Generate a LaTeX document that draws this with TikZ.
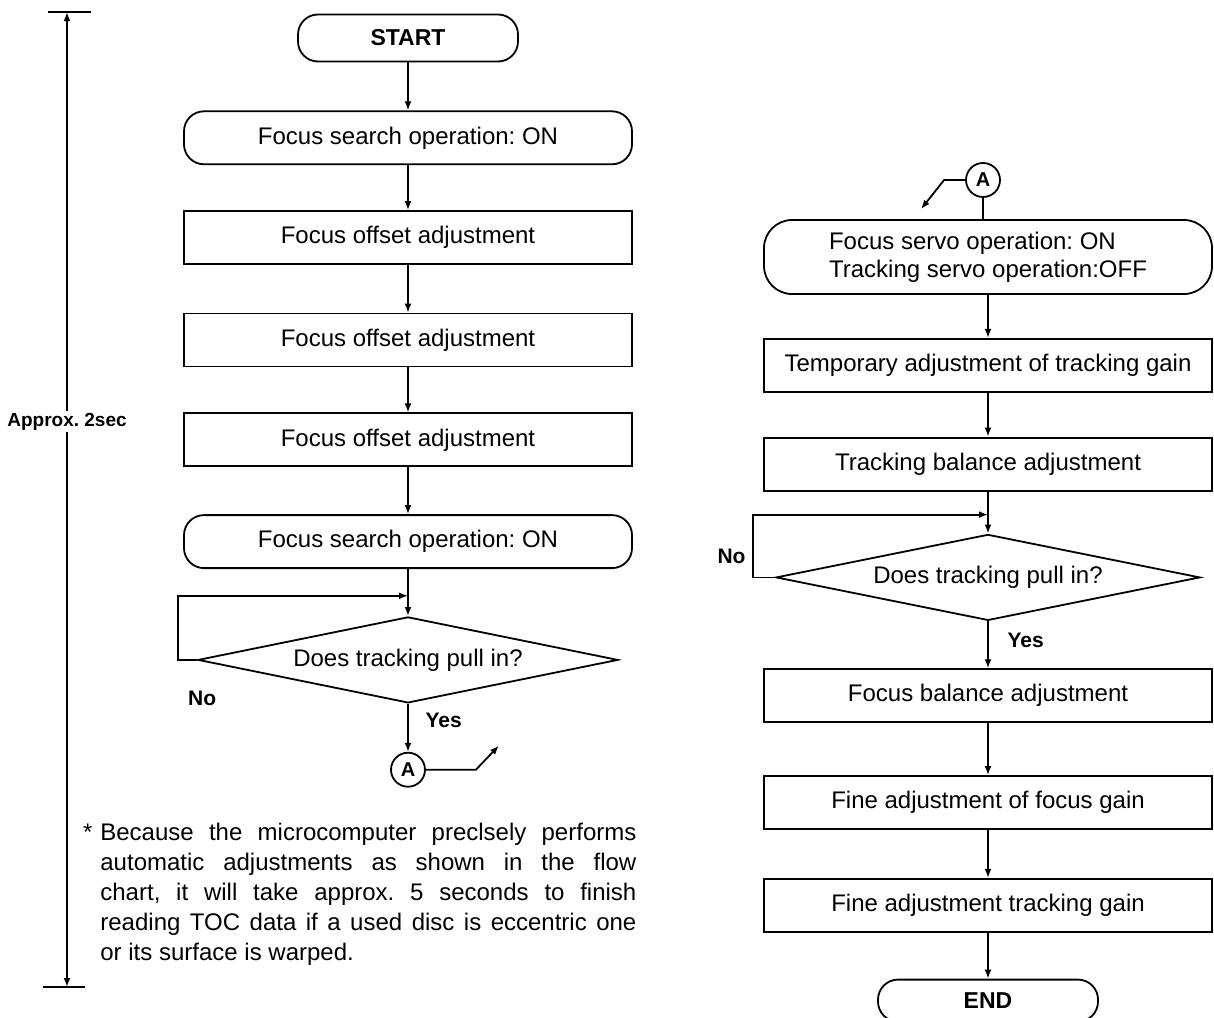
\documentclass[tikz,border=0pt]{standalone}
\usepackage{fontspec}
\setmainfont{Liberation Sans}
\usetikzlibrary{arrows.meta,positioning,shapes.geometric,calc}

\begin{document}
\frenchspacing
\begin{tikzpicture}[
x=0.5pt,y=-0.5pt,
node distance=23pt,
block/.style={draw,line width=0.9pt,minimum width=224pt,minimum height=26.5pt,inner sep=2pt,font=\fontsize{12}{14}\selectfont},
term/.style={block,rounded corners=10pt},
small/.style={term,minimum width=110pt,minimum height=23.5pt,font=\fontsize{11.5}{14}\selectfont\bfseries},
decision/.style={draw,line width=0.9pt,diamond,aspect=4.9,minimum width=210pt,minimum height=43pt,inner sep=0pt,font=\fontsize{12}{14}\selectfont},
conn/.style={draw,line width=0.9pt,circle,minimum size=17pt,inner sep=0pt,font=\fontsize{10}{12}\selectfont\bfseries},
lbl/.style={font=\fontsize{10.5}{12}\selectfont\bfseries},
arrow/.style={-{Latex[length=4.5pt,width=3.5pt]},line width=0.9pt},
plain/.style={line width=0.9pt}
]
\useasboundingbox (0,0) rectangle (1214,1017);

% left column
\node[small] (start) at (408,38) {START};
\node[term,below=24pt of start] (search1) {Focus search operation: ON};
\node[block,below=22.5pt of search1] (offset1) {Focus offset adjustment};
\node[block,below=23.8pt of offset1] (offset2) {Focus offset adjustment};
\node[block,below=22.5pt of offset2] (offset3) {Focus offset adjustment};
\node[term,below=23.5pt of offset3] (search2) {Focus search operation: ON};
\node[decision,below=23.5pt of search2] (pull1) {Does tracking pull in?};
\node[conn,below=24pt of pull1] (outA) {A};
\coordinate (join1) at ($(search2.south)!0.57!(pull1.north)$);

\draw[arrow] (start) -- (search1);
\draw[arrow] (search1) -- (offset1);
\draw[arrow] (offset1) -- (offset2);
\draw[arrow] (offset2) -- (offset3);
\draw[arrow] (offset3) -- (search2);
\draw[arrow] (search2) -- (pull1);
\draw[arrow] (pull1.west) -- ++(-9.5pt,0) |- (join1);
\draw[arrow] (pull1) -- node[lbl,right=5pt,pos=0.35]{Yes} (outA);
\node[lbl] (no1) at ($(pull1.west)+(5,38)$) {No};
\draw[arrow] (outA.east) -- ++(50,0) -- ++(23,-24);

% time span
\coordinate (dtop) at (67,12);
\coordinate (dbot) at (67,987);
\draw[{Latex[length=4.5pt,width=3.5pt]}-{Latex[length=4.5pt,width=3.5pt]},line width=0.9pt] (dtop) -- node[pos=0.42,fill=white,inner sep=1pt,font=\fontsize{9.5}{11}\selectfont\bfseries]{Approx. 2sec} (dbot);
\draw[plain] ($(dtop)+(-19,0)$) -- ($(dtop)+(24,0)$);
\draw[plain] ($(dbot)+(-24,0)$) -- ($(dbot)+(18,0)$);

% note
\node[anchor=north west,inner sep=0pt,text width=268pt,align=justify,font=\fontsize{12}{15}\selectfont] (note) at (100,823) {\hyphenpenalty=10000\relax\llap{*\hspace{4pt}}Because the microcomputer preclsely performs\linebreak automatic adjustments as shown in the flow\linebreak chart, it will take approx. 5 seconds to finish\linebreak reading TOC data if a used disc is eccentric one\linebreak or its surface is warped.};

% right column
\node[conn] (inA) at (983,180) {A};
\node[term,rounded corners=14pt,minimum height=37pt,align=left] (servo) at (988,257) {Focus servo operation: ON\\Tracking servo operation:OFF};
\node[block,below=21.5pt of servo] (tgain) {Temporary adjustment of tracking gain};
\node[block,below=22pt of tgain] (tbal) {Tracking balance adjustment};
\node[decision,minimum width=212pt,below=21pt of tbal] (pull2) {Does tracking pull in?};
\node[block,below=23.5pt of pull2] (fbal) {Focus balance adjustment};
\node[block,below=26pt of fbal] (fgain) {Fine adjustment of focus gain};
\node[block,below=24pt of fgain] (tfine) {Fine adjustment tracking gain};
\node[small,minimum height=21pt,below=23pt of tfine] (stop) {END};
\coordinate (join2) at ($(tbal.south)!0.55!(pull2.north)$);

\draw[arrow] (inA.west) -- ++(-21,0) -- ++(-23,29);
\draw[plain] (inA) -- (inA |- servo.north);
\draw[arrow] (servo) -- (tgain);
\draw[arrow] (tgain) -- (tbal);
\draw[arrow] (tbal) -- (pull2);
\draw[arrow] (pull2.west) -- ++(-11pt,0) |- node[lbl,left,pos=0.17]{No} (join2);
\draw[arrow] (pull2) -- node[lbl,right=6pt,pos=0.4]{Yes} (fbal);
\draw[arrow] (fbal) -- (fgain);
\draw[arrow] (fgain) -- (tfine);
\draw[arrow] (tfine) -- (stop);
\end{tikzpicture}
\end{document}
